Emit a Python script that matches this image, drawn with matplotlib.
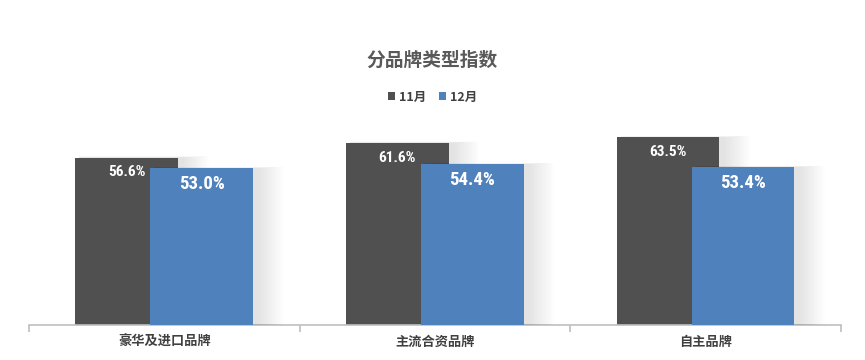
import matplotlib

matplotlib.use("Agg")
import matplotlib.pyplot as plt
from matplotlib import font_manager
import numpy as np

plt.rcParams["font.family"] = ["Noto Sans CJK SC", "DejaVu Sans"]

CATEGORIES = ["豪华及进口品牌", "主流合资品牌", "自主品牌"]
SERIES = ["11月", "12月"]
NOV = [56.6, 61.6, 63.5]
DEC = [53.0, 54.4, 53.4]
COLOURS = ["#505050", "#4f81bd"]

# narrow bold face for the value labels, whichever is installed
names = {f.name for f in font_manager.fontManager.ttflist}
narrow = {"family": "DejaVu Sans", "stretch": "condensed"}
for cand in ("Liberation Sans Narrow", "Roboto Condensed", "Open Sans Condensed"):
    if cand in names:
        narrow = {"family": cand}
        break

fig = plt.figure(figsize=(8.65, 3.6), dpi=100)
ax = fig.add_axes([0.0335, 0.0972, 0.9385, 0.575])

x = np.arange(len(CATEGORIES))
width = 0.38
offset = 0.277
xs = [x - offset / 2, x + offset / 2]

for i, (vals, colour) in enumerate(zip([NOV, DEC], COLOURS)):
    # soft shadow behind each bar, fading out to the upper right
    for k in range(14):
        d = 0.0035 * (k + 1)
        ax.bar(xs[i] + 0.015 + d, np.array(vals) + d * 10, width=width + d * 2,
               color="black", alpha=0.007, linewidth=0, zorder=1 + i * 2)
    ax.bar(xs[i], vals, width=width, color=colour, linewidth=0,
           zorder=2 + i * 2, label=SERIES[i])

for xi, v in zip(xs[0], NOV):
    ax.text(xi, v - 5, f"{v:.1f}%", ha="center", va="center", color="white",
            fontsize=11, fontweight="bold", zorder=6, **narrow)
for xi, v in zip(xs[1], DEC):
    ax.text(xi, v - 5.3, f"{v:.1f}%", ha="center", va="center", color="white",
            fontsize=13.5, fontweight="bold", zorder=6, **narrow)

ax.set_xlim(-0.5, len(CATEGORIES) - 0.5)
ax.set_ylim(0, 70)
for side in ("top", "right", "left"):
    ax.spines[side].set_visible(False)
ax.spines["bottom"].set_color("#bfbfbf")
ax.spines["bottom"].set_linewidth(1.2)
ax.set_yticks([])
ax.set_xticks(np.arange(len(CATEGORIES) + 1) - 0.5)
ax.set_xticklabels([])
ax.tick_params(axis="x", length=5, color="#bfbfbf", width=1.2)
ax.set_xticks(x, minor=True)
ax.set_xticklabels(CATEGORIES, minor=True, fontsize=9.5, fontweight="bold", color="#404040")
ax.tick_params(axis="x", which="minor", length=0, pad=7)

fig.text(0.5, 0.833, "分品牌类型指数", ha="center", va="center", fontsize=13.5,
         fontweight="bold", color="#595959")
ax.legend(loc="center", bbox_to_anchor=(0.5, 0.73), bbox_transform=fig.transFigure,
          ncol=2, frameon=False, handlelength=0.6, handleheight=0.6, handletextpad=0.3,
          columnspacing=1.0, prop={"size": 9, "weight": "bold"}, labelcolor="#404040")

fig.savefig("out.png", dpi=100, facecolor="white")
